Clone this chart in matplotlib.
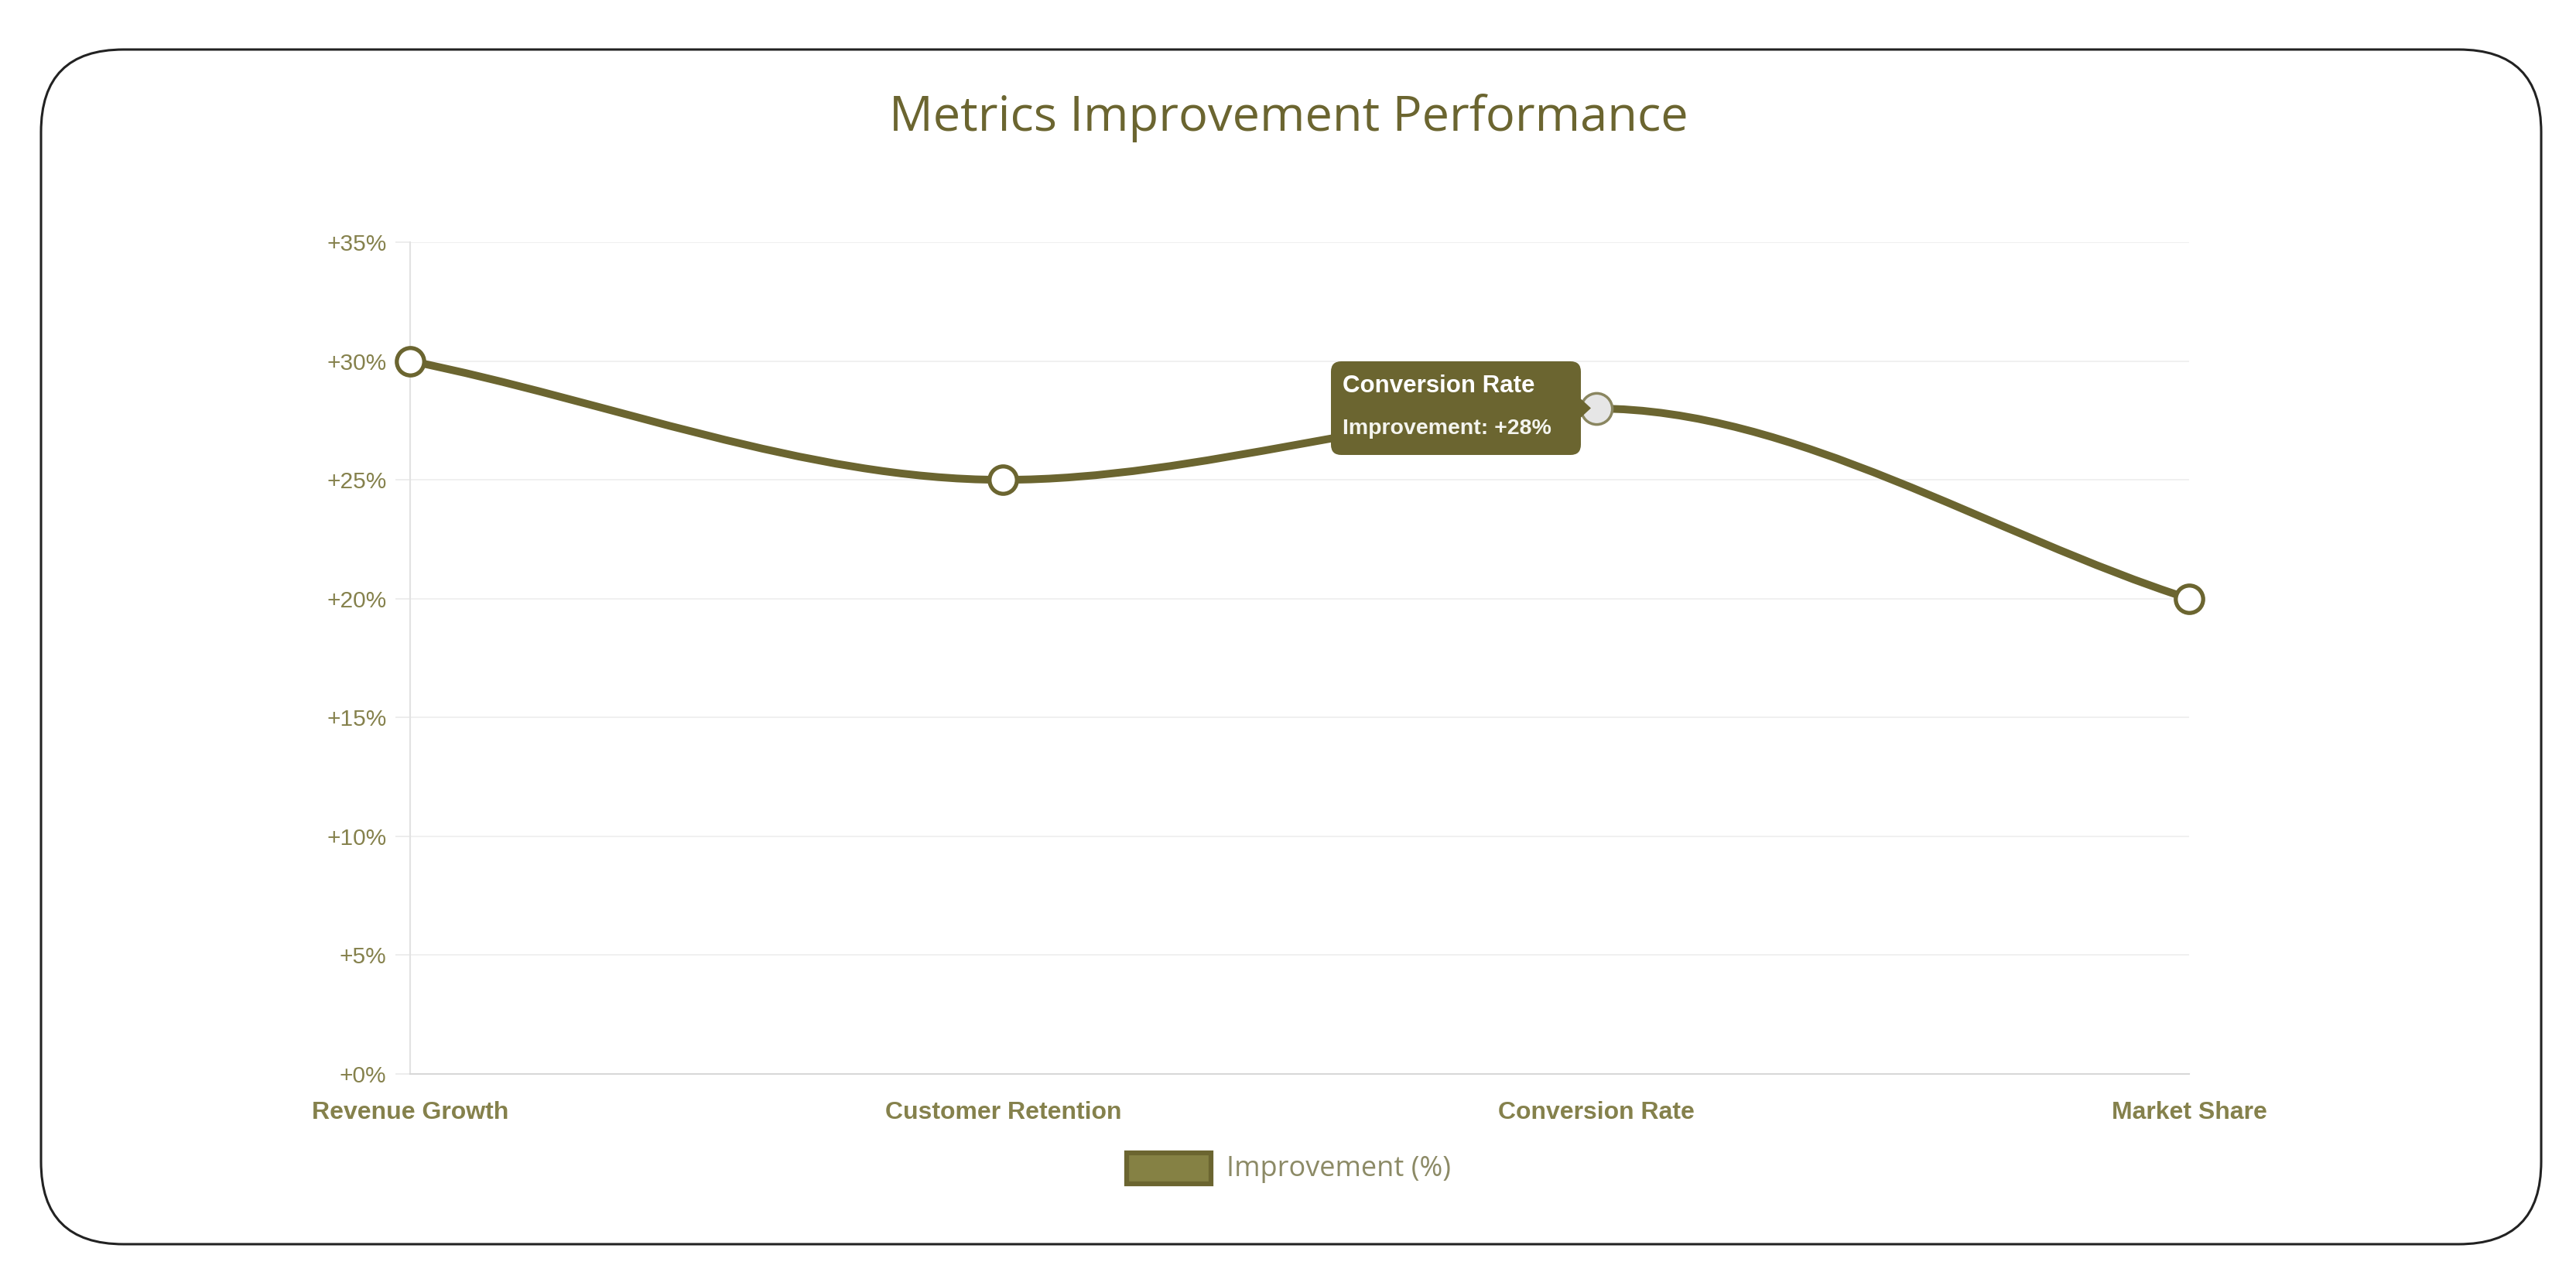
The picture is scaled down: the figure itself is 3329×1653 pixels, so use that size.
import numpy as np
import matplotlib
matplotlib.use("Agg")
import matplotlib.pyplot as plt
from matplotlib.path import Path
from matplotlib.patches import PathPatch, FancyBboxPatch, Rectangle, Polygon

# ---------------- datos ----------------
categorias = ["Revenue Growth", "Customer Retention", "Conversion Rate", "Market Share"]
mejora = [30, 25, 28, 20]
y_ticks = [0, 5, 10, 15, 20, 25, 30, 35]
y_labels = ["+0%", "+5%", "+10%", "+15%", "+20%", "+25%", "+30%", "+35%"]
serie_nombre = "Improvement (%)"
titulo = "Metrics Improvement Performance"
idx_hover = 2

OLIVA = "#6b6530"
OLIVA_TXT = "#85814c"
W, H = 3330, 1653

fig = plt.figure(figsize=(W / 100, H / 100), dpi=100)
fig.patch.set_facecolor("white")

# marco redondeado (sin relleno para no tapar el grafico)
marco = FancyBboxPatch((53 / W, 1 - 1608 / H), (3284 - 53) / W, (1608 - 64) / H,
                       boxstyle="round,pad=0,rounding_size=0.032",
                       transform=fig.transFigure, facecolor="none",
                       edgecolor="#222222", linewidth=2.2, mutation_aspect=W / H)
fig.patches.append(marco)

fig.text(0.5, 1 - 153 / H, titulo, ha="center", va="center",
         fontsize=45.5, color=OLIVA, family="Open Sans")

# area del grafico
x0, x1 = 530, 2829
ytop, ybot = 313, 1388
ax = fig.add_axes([x0 / W, 1 - ybot / H, (x1 - x0) / W, (ybot - ytop) / H])
ax.set_xlim(0, len(categorias) - 1)
ax.set_ylim(0, 35)
ax.set_facecolor("none")

for s in ["top", "right"]:
    ax.spines[s].set_visible(False)
ax.spines["left"].set_color("#e2e2e2")
ax.spines["bottom"].set_color("#d8d8d8")
ax.spines["left"].set_linewidth(1.5)
ax.spines["bottom"].set_linewidth(1.5)

ax.set_yticks(y_ticks)
ax.set_yticklabels(y_labels, family="Liberation Sans", fontsize=21.5, color=OLIVA_TXT)
ax.set_xticks(range(len(categorias)))
ax.set_xticklabels(categorias, family="Liberation Sans", fontsize=23,
                   fontweight="bold", color=OLIVA_TXT)
ax.tick_params(axis="y", length=14, width=1.3, color="#ececec", pad=8)
ax.tick_params(axis="x", length=0, pad=25)
ax.grid(axis="y", color="#efefef", linewidth=1.3)
ax.set_axisbelow(True)

# curva monotona (como cubicInterpolationMode 'monotone' de Chart.js), en pixeles
xs = np.arange(len(mejora), dtype=float)
pts = ax.transData.transform(np.column_stack([xs, mejora]))
n = len(pts)
delta = [(pts[i + 1][1] - pts[i][1]) / (pts[i + 1][0] - pts[i][0]) for i in range(n - 1)]
m = [0.0] * n
m[0] = delta[0]
m[-1] = delta[-1]
for i in range(1, n - 1):
    if np.sign(delta[i - 1]) != np.sign(delta[i]):
        m[i] = 0.0
    else:
        m[i] = (delta[i - 1] + delta[i]) / 2
for i in range(n - 1):
    if delta[i] == 0:
        m[i] = m[i + 1] = 0.0
        continue
    a, b = m[i] / delta[i], m[i + 1] / delta[i]
    s2 = a * a + b * b
    if s2 > 9:
        tau = 3 / np.sqrt(s2)
        m[i] = tau * a * delta[i]
        m[i + 1] = tau * b * delta[i]

verts = [pts[0]]
codes = [Path.MOVETO]
for i in range(n - 1):
    dx = (pts[i + 1][0] - pts[i][0]) / 3
    verts += [(pts[i][0] + dx, pts[i][1] + m[i] * dx),
              (pts[i + 1][0] - dx, pts[i + 1][1] - m[i + 1] * dx),
              pts[i + 1]]
    codes += [Path.CURVE4] * 3
verts = ax.transData.inverted().transform(np.array(verts))
ax.add_patch(PathPatch(Path(verts, codes), facecolor="none", edgecolor=OLIVA,
                       linewidth=7.2, capstyle="round", joinstyle="round", zorder=3))

for i, (xv, yv) in enumerate(zip(xs, mejora)):
    if i == idx_hover:
        ax.plot(xv, yv, "o", markersize=29, markerfacecolor="#e6e6e6",
                markeredgecolor="#8a8660", markeredgewidth=2.5, zorder=4, clip_on=False)
    else:
        ax.plot(xv, yv, "o", markersize=25.5, markerfacecolor="white",
                markeredgecolor=OLIVA, markeredgewidth=3.8, zorder=4, clip_on=False)

# tooltip
bx0, bx1, by0, by1 = 1720, 2043, 467, 588
tip = FancyBboxPatch((bx0 / W, 1 - by1 / H), (bx1 - bx0) / W, (by1 - by0) / H,
                     boxstyle="round,pad=0,rounding_size=0.004",
                     mutation_aspect=W / H, transform=fig.transFigure,
                     facecolor=OLIVA, edgecolor="none", zorder=10)
fig.patches.append(tip)
yc = (by0 + by1) / 2
caret = Polygon([(bx1 / W, 1 - (yc - 12) / H), ((bx1 + 13) / W, 1 - yc / H),
                 (bx1 / W, 1 - (yc + 12) / H)], closed=True,
                transform=fig.transFigure, facecolor=OLIVA, edgecolor="none", zorder=10)
fig.patches.append(caret)
fig.text(1735 / W, 1 - 499 / H, categorias[idx_hover], ha="left", va="center",
         fontsize=22.5, fontweight="bold", color="white", family="Liberation Sans", zorder=11)
fig.text(1735 / W, 1 - 554 / H, f"Improvement: +{mejora[idx_hover]}%", ha="left",
         va="center", fontsize=20.5, fontweight="bold", color="#f4f4ee",
         family="Liberation Sans", zorder=11)

# leyenda
fig.patches.append(Rectangle((1456 / W, 1 - 1530 / H), 109 / W, 40 / H,
                             transform=fig.transFigure, facecolor="#858144",
                             edgecolor=OLIVA, linewidth=4.5))
fig.text(1585 / W, 1 - 1511 / H, serie_nombre, ha="left", va="center",
         fontsize=26, color="#8c8a66", family="Open Sans")

fig.savefig("out.png", dpi=100, facecolor="white")
